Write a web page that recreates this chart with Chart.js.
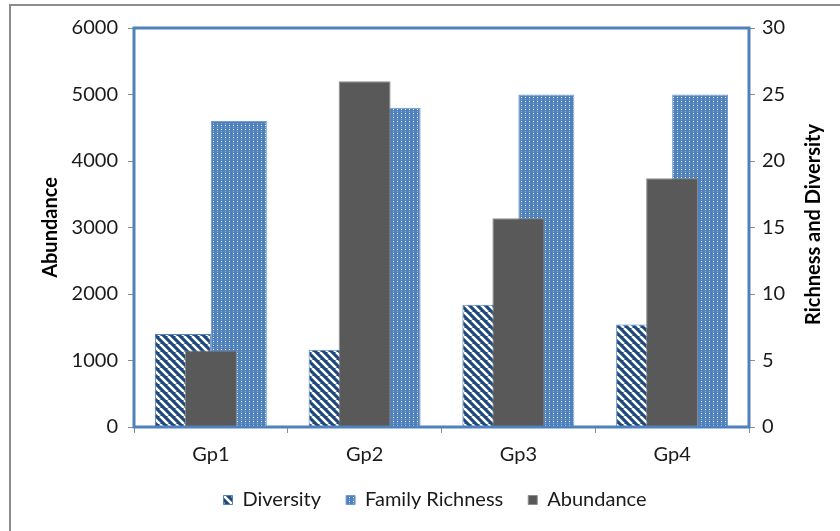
<!DOCTYPE html>
<html>
<head>
<meta charset="utf-8">
<script src="https://cdn.jsdelivr.net/npm/chart.js@4.4.0/dist/chart.umd.min.js"></script>
<style>
  html, body { margin: 0; padding: 0; background: #fff; }
</style>
</head>
<body>
<canvas id="myChart" width="840" height="531"></canvas>
<script>
// Data
const groups = ['Gp1', 'Gp2', 'Gp3', 'Gp4'];
const diversity = [7.0, 5.8, 9.2, 7.7];
const familyRichness = [23, 24, 25, 25];
const abundance = [1150, 5200, 3140, 3740];
const abundanceTicks = [0, 1000, 2000, 3000, 4000, 5000, 6000];
const richnessTicks = [0, 5, 10, 15, 20, 25, 30];

const ctx = document.getElementById('myChart');
const g = ctx.getContext('2d');

// Fill patterns
function makeStripes() {
  let c = document.createElement('canvas');
  c.width = 8; c.height = 8;
  let p = c.getContext('2d');
  p.fillStyle = '#1F497D';
  p.fillRect(0, 0, 8, 8);
  p.strokeStyle = '#ffffff';
  p.lineWidth = 2.6;
  p.beginPath();
  for (let k = -8; k <= 8; k += 8) {
    p.moveTo(k, 0);
    p.lineTo(k + 8, 8);
  }
  p.stroke();
  return g.createPattern(c, 'repeat');
}

function makeDots() {
  let c = document.createElement('canvas');
  c.width = 4; c.height = 4;
  let p = c.getContext('2d');
  p.fillStyle = '#4F81BD';
  p.fillRect(0, 0, 4, 4);
  p.fillStyle = '#ffffff';
  p.fillRect(1, 1, 1, 1);
  p.fillStyle = '#8DB0DC';
  p.fillRect(1, 3, 1, 1);
  return g.createPattern(c, 'repeat');
}

const tickFont = { family: 'Lato', size: 20 };
const titleFont = { family: 'Lato', size: 20, weight: 'bold' };

// Frame around the whole chart, blue border round the plot area,
// and the right axis title reading upwards like the left one
const frames = {
  id: 'frames',
  beforeDraw(chart) {
    let c = chart.ctx;
    c.save();
    c.strokeStyle = '#8C8C8C';
    c.lineWidth = 2;
    c.strokeRect(10, 5, 900, 600);
    c.restore();
  },
  afterDatasetsDraw(chart) {
    let a = chart.chartArea;
    let c = chart.ctx;
    c.save();
    c.strokeStyle = '#4F81BD';
    c.lineWidth = 3;
    c.strokeRect(a.left, a.top, a.right - a.left, a.bottom - a.top);
    c.restore();
  },
  afterDraw(chart) {
    let a = chart.chartArea;
    let c = chart.ctx;
    c.save();
    c.translate(814, (a.top + a.bottom) / 2 - 3);
    c.rotate(-Math.PI / 2);
    c.font = 'bold 20px Lato';
    c.fillStyle = '#000';
    c.textAlign = 'center';
    c.textBaseline = 'middle';
    c.fillText('Richness and Diversity', 0, 0);
    c.restore();
  }
};

const plainTick = v => String(v);

// legend entries in dataset order, with a wider gap after each name
function legendItems(chart) {
  let items = Chart.defaults.plugins.legend.labels.generateLabels(chart);
  items.sort((a, b) => a.datasetIndex - b.datasetIndex);
  items.forEach((it, i) => {
    if (i < items.length - 1) it.text = it.text + '\u2003';
  });
  return items;
}

new Chart(ctx, {
  type: 'bar',
  data: {
    labels: groups,
    datasets: [{
      label: 'Diversity',
      data: diversity,
      yAxisID: 'y1',
      backgroundColor: makeStripes(),
      borderColor: '#4F81BD',
      borderWidth: 1,
      categoryPercentage: 0.728,
      barPercentage: 1,
      order: 2
    }, {
      label: 'Family Richness',
      data: familyRichness,
      yAxisID: 'y1',
      backgroundColor: makeDots(),
      borderColor: '#6F9BD1',
      borderWidth: 1,
      categoryPercentage: 0.728,
      barPercentage: 1,
      order: 2
    }, {
      label: 'Abundance',
      data: abundance,
      yAxisID: 'y',
      grouped: false,
      backgroundColor: '#595959',
      borderColor: '#8C8C8C',
      borderWidth: 1,
      categoryPercentage: 0.338,
      barPercentage: 1,
      order: 1
    }]
  },
  options: {
    responsive: false,
    animation: false,
    devicePixelRatio: 1,
    layout: { padding: { top: 28, left: 30, right: 0, bottom: 11 } },
    plugins: {
      tooltip: { enabled: false },
      legend: {
        position: 'bottom',
        labels: {
          font: tickFont,
          color: '#1A1A1A',
          boxWidth: 9,
          boxHeight: 9,
          padding: 10,
          generateLabels: legendItems
        }
      }
    },
    scales: {
      x: {
        grid: { offset: true, drawOnChartArea: false, tickLength: 6, color: '#8C8C8C' },
        border: { display: false },
        ticks: { font: tickFont, color: '#1A1A1A', padding: 10 },
        afterFit(s) { s.height = 53; }
      },
      y: {
        position: 'left',
        min: abundanceTicks[0],
        max: abundanceTicks[abundanceTicks.length - 1],
        ticks: { stepSize: abundanceTicks[1] - abundanceTicks[0], font: tickFont, color: '#1A1A1A', padding: 10, callback: plainTick },
        grid: { drawOnChartArea: false, tickLength: 6, color: '#8C8C8C' },
        border: { display: false },
        title: { display: true, text: 'Abundance', font: titleFont, color: '#000', padding: { top: 9, bottom: 0 } },
        afterFit(s) { s.width = 104; }
      },
      y1: {
        position: 'right',
        min: richnessTicks[0],
        max: richnessTicks[richnessTicks.length - 1],
        ticks: { stepSize: richnessTicks[1] - richnessTicks[0], font: tickFont, color: '#1A1A1A', padding: 7, callback: plainTick },
        grid: { drawOnChartArea: false, tickLength: 6, color: '#8C8C8C' },
        border: { display: false },
        afterFit(s) { s.width = 91; }
      }
    }
  },
  plugins: [frames]
});
</script>
</body>
</html>
